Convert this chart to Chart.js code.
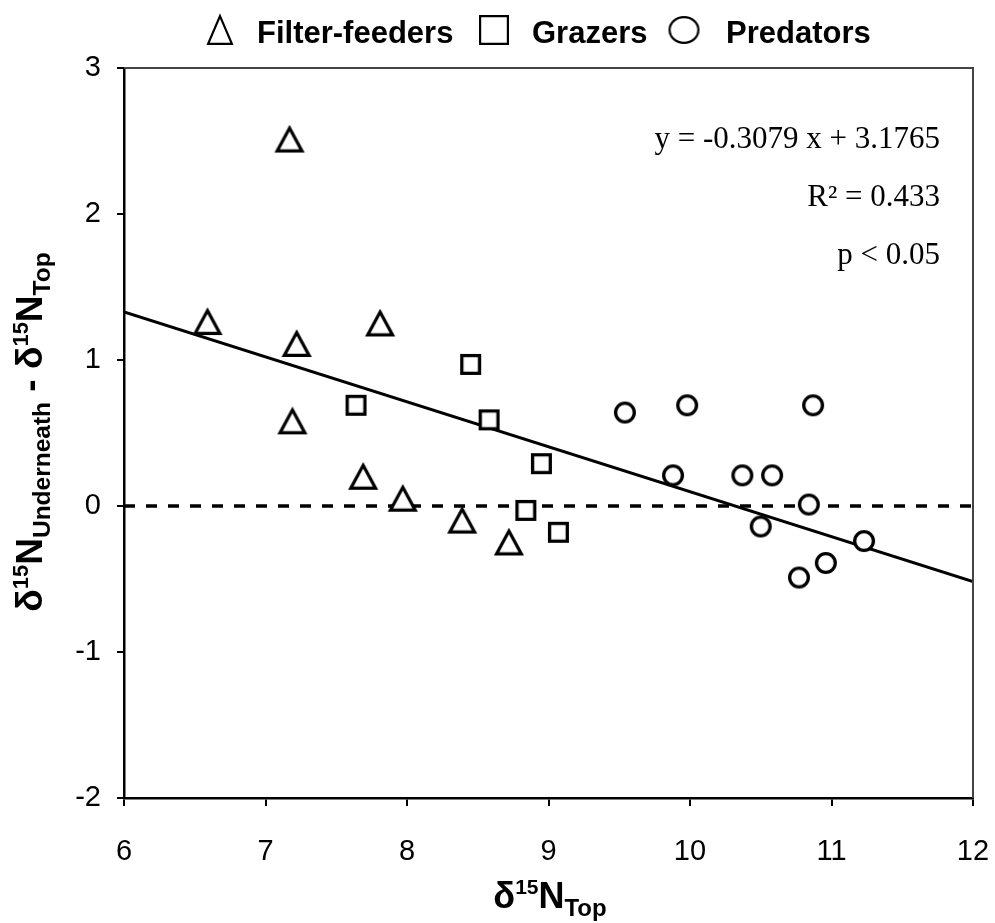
<!DOCTYPE html>
<html>
<head>
<meta charset="utf-8">
<script src="https://cdn.jsdelivr.net/npm/chart.js@4.4.1/dist/chart.umd.min.js"></script>
<style>
  html, body { margin: 0; padding: 0; background: #fff; }
  #wrap { width: 995px; height: 923px; position: relative; }
</style>
</head>
<body>
<div id="wrap"><canvas id="c" width="995" height="923"></canvas></div>
<script>
// ---------- data ----------
const seriesNames = ['Filter-feeders', 'Grazers', 'Predators'];
const filterX = [6.59, 7.17, 7.22, 7.81, 7.19, 7.69, 7.97, 8.39, 8.72];
const filterY = [1.26, 2.51, 1.11, 1.25, 0.58, 0.20, 0.05, -0.10, -0.25];
const grazerX = [8.45, 7.64, 8.58, 8.95, 8.84, 9.07];
const grazerY = [0.97, 0.69, 0.59, 0.29, -0.03, -0.18];
const predX = [9.54, 9.98, 10.87, 9.88, 10.37, 10.58, 10.84, 10.50, 11.23, 10.96, 10.77];
const predY = [0.64, 0.69, 0.69, 0.21, 0.21, 0.21, 0.01, -0.14, -0.24, -0.39, -0.49];
const trendSlope = -0.3079;
const trendIntercept = 3.1765;
const xRange = [6, 12];
const yRange = [-2, 3];
const refLineY = 0;
const statLines = ['y = -0.3079 x + 3.1765', 'R\u00B2 = 0.433', 'p < 0.05'];

const SANS = '"Liberation Sans", Arial, sans-serif';

// ---------- marker images ----------
function makeMarker(kind, w, h, lw) {
  const pad = 2;
  const c = document.createElement('canvas');
  c.width = w + pad * 2; c.height = h + pad * 2;
  const g = c.getContext('2d');
  g.translate(pad, pad);
  g.lineWidth = lw; g.strokeStyle = '#000'; g.fillStyle = '#fff';
  g.lineJoin = 'miter';
  g.beginPath();
  if (kind === 'triangle') {
    g.moveTo(w / 2, lw / 2);
    g.lineTo(w - lw / 2, h - lw / 2);
    g.lineTo(lw / 2, h - lw / 2);
    g.closePath();
  } else if (kind === 'rect') {
    g.rect(lw / 2, lw / 2, w - lw, h - lw);
  } else {
    g.ellipse(w / 2, h / 2, w / 2 - lw / 2, h / 2 - lw / 2, 0, 0, Math.PI * 2);
  }
  g.fill(); g.stroke();
  return c;
}
const mTri = makeMarker('triangle', 28, 26, 3.2);
const mSq = makeMarker('rect', 21, 21, 3.3);
const mCi = makeMarker('circle', 22, 22, 3.3);
const legTri = makeMarker('triangle', 26, 30, 2.2);
const legSq = makeMarker('rect', 30, 30, 2.2);
const legCi = makeMarker('circle', 31, 28, 2.2);

const toPts = (xs, ys) => xs.map((x, i) => ({ x: x, y: ys[i] }));

// ---------- plugins ----------
function drawRich(ctx, segs, x, y, align) {
  let total = 0;
  segs.forEach(s => { ctx.font = 'bold ' + s.s + 'px ' + SANS; s.w = ctx.measureText(s.t).width; total += s.w; });
  let cx = align === 'center' ? x - total / 2 : x;
  ctx.textBaseline = 'alphabetic';
  ctx.textAlign = 'left';
  segs.forEach(s => {
    ctx.font = 'bold ' + s.s + 'px ' + SANS;
    ctx.fillText(s.t, cx, y + (s.dy || 0));
    cx += s.w;
  });
}

const decorPlugin = {
  id: 'decor',
  afterDraw(chart) {
    const ctx = chart.ctx;
    const a = chart.chartArea;
    ctx.save();
    // frame top/right
    ctx.strokeStyle = '#444';
    ctx.lineWidth = 2;
    ctx.beginPath();
    ctx.moveTo(a.left, a.top); ctx.lineTo(a.right, a.top); ctx.lineTo(a.right, a.bottom);
    ctx.stroke();

    // legend
    ctx.fillStyle = '#000';
    ctx.font = 'bold 31px ' + SANS;
    ctx.textBaseline = 'alphabetic';
    ctx.textAlign = 'left';
    const legY = 43;
    const items = [
      { img: legTri, cx: 220, tx: 257 },
      { img: legSq, cx: 494, tx: 532 },
      { img: legCi, cx: 684, tx: 726 }
    ];
    items.forEach((it, i) => {
      ctx.drawImage(it.img, it.cx - it.img.width / 2, 30 - it.img.height / 2);
      ctx.fillText(seriesNames[i], it.tx, legY);
    });

    // stats text
    ctx.font = '31px "Liberation Serif", "Times New Roman", serif';
    ctx.textAlign = 'right';
    const sb = [148, 206, 264];
    statLines.forEach((t, i) => ctx.fillText(t, 940, sb[i]));

    // x title
    drawRich(ctx, [
      { t: '\u03B4', s: 36 }, { t: '15', s: 21, dy: -14 }, { t: 'N', s: 36 }, { t: 'Top', s: 24, dy: 8 }
    ], 550, 908, 'center');

    // y title
    ctx.translate(42, 432);
    ctx.rotate(-Math.PI / 2);
    drawRich(ctx, [
      { t: '\u03B4', s: 37 }, { t: '15', s: 22, dy: -14 }, { t: 'N', s: 37 }, { t: 'Underneath', s: 24.5, dy: 8 },
      { t: ' - ', s: 37 },
      { t: '\u03B4', s: 37 }, { t: '15', s: 22, dy: -14 }, { t: 'N', s: 37 }, { t: 'Top', s: 24.5, dy: 8 }
    ], 0, 0, 'center');
    ctx.restore();
  }
};

// ---------- chart ----------
new Chart(document.getElementById('c'), {
  type: 'scatter',
  data: {
    datasets: [
      {
        type: 'line', label: 'ref', data: [{ x: xRange[0], y: refLineY }, { x: xRange[1], y: refLineY }],
        borderColor: '#000', borderWidth: 3.5, borderDash: [11, 11], pointRadius: 0, fill: false, order: 3
      },
      {
        type: 'line', label: 'trend',
        data: xRange.map(x => ({ x: x, y: trendSlope * x + trendIntercept })),
        borderColor: '#000', borderWidth: 3, pointRadius: 0, fill: false, order: 2
      },
      { label: seriesNames[0], data: toPts(filterX, filterY), pointStyle: mTri, order: 1 },
      { label: seriesNames[1], data: toPts(grazerX, grazerY), pointStyle: mSq, order: 1 },
      { label: seriesNames[2], data: toPts(predX, predY), pointStyle: mCi, order: 1 }
    ]
  },
  options: {
    responsive: false,
    animation: false,
    events: [],
    layout: { padding: { top: 68, right: 22, left: 0, bottom: 0 } },
    plugins: { legend: { display: false }, tooltip: { enabled: false } },
    scales: {
      x: {
        type: 'linear', min: xRange[0], max: xRange[1],
        ticks: { stepSize: 1, color: '#000', font: { family: SANS, size: 29 }, padding: 29, maxRotation: 0 },
        grid: { drawOnChartArea: false, drawTicks: true, tickLength: 8, color: '#000', lineWidth: 2 },
        border: { display: true, color: '#000', width: 2.5 },
        afterFit(s) { s.height = 125; s.paddingRight = 0; s.paddingLeft = 0; }
      },
      y: {
        type: 'linear', min: yRange[0], max: yRange[1],
        ticks: { stepSize: 1, color: '#000', font: { family: SANS, size: 29 }, padding: 16 },
        grid: { drawOnChartArea: false, drawTicks: true, tickLength: 7, color: '#000', lineWidth: 2 },
        border: { display: true, color: '#000', width: 2.5 },
        afterFit(s) { s.width = 124; s.paddingTop = 0; s.paddingBottom = 0; }
      }
    }
  },
  plugins: [decorPlugin]
});
</script>
</body>
</html>
